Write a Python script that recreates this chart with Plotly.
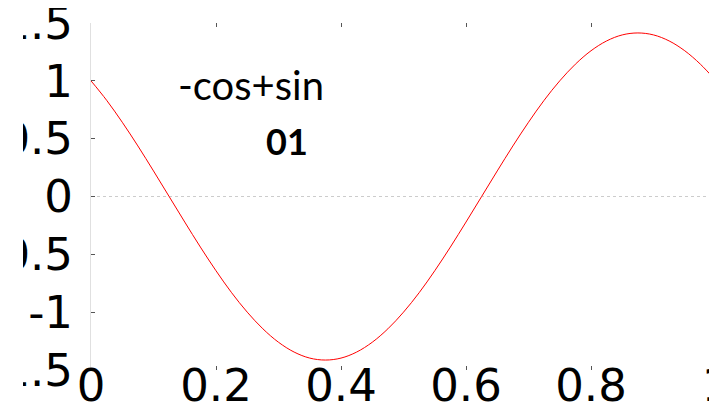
import plotly.graph_objects as go

x_vals = [i * 0.025 for i in range(41)]
y_vals = [1.0, 0.832, 0.642, 0.437, 0.221, 0.0, -0.221, -0.437, -0.642, -0.832,
          -1.0, -1.144, -1.26, -1.345, -1.397, -1.414, -1.397, -1.345, -1.26, -1.144,
          -1.0, -0.832, -0.642, -0.437, -0.221, 0.0, 0.221, 0.437, 0.642, 0.832,
          1.0, 1.144, 1.26, 1.345, 1.397, 1.414, 1.397, 1.345, 1.26, 1.144, 1.0]

x_ticks = [0, 0.2, 0.4, 0.6, 0.8, 1]
x_tick_text = ["0", "0.2", "0.4", "0.6", "0.8", "1"]
y_ticks = [-1.5, -1, -0.5, 0, 0.5, 1, 1.5]
y_tick_text = ["-1.5", "-1", "-0.5", "0", "0.5", "1", "1.5"]

title_text = "-cos+sin"
sub_text = "<b>01</b>"

fig = go.Figure()
fig.add_trace(go.Scatter(x=x_vals, y=y_vals, mode="lines",
                         line=dict(color="red", width=1, shape="spline"),
                         showlegend=False, hoverinfo="skip"))
fig.add_hline(y=0, line=dict(color="#cccccc", width=1, dash="dot"), layer="below")

fig.add_annotation(x=0.256, y=0.964, xref="x", yref="y", text=title_text, showarrow=False,
                   font=dict(family="Lato", size=40, color="black"))
fig.add_annotation(x=0.314, y=0.476, xref="x", yref="y", text=sub_text, showarrow=False,
                   font=dict(family="Lato", size=36, color="black"))

# white strip that crops the tick labels at the left edge like the reference
fig.add_shape(type="rect", xref="paper", yref="paper",
              x0=-0.2, x1=-0.1088, y0=-0.2, y1=1.1,
              fillcolor="white", line=dict(width=0), layer="above")

fig.update_layout(
    width=709, height=403,
    margin=dict(l=83, r=1, t=15, b=41, autoexpand=False),
    paper_bgcolor="white", plot_bgcolor="white",
    font=dict(family="DejaVu Sans", size=45, color="black"),
)
fig.update_xaxes(range=[0, 1], tickvals=x_ticks, ticktext=x_tick_text,
                 ticks="inside", ticklen=4, tickcolor="#555555", mirror="ticks",
                 showline=False, showgrid=False, zeroline=False, automargin=False,
                 ticklabeloverflow="allow", ticklabelstandoff=-15)
fig.update_yaxes(range=[-1.5, 1.5], tickvals=y_ticks, ticktext=y_tick_text,
                 ticks="inside", ticklen=4, tickcolor="#555555", mirror="ticks",
                 showline=True, linecolor="#e0e0e0", linewidth=1,
                 showgrid=False, zeroline=False, automargin=False,
                 ticklabeloverflow="allow", ticklabelstandoff=8)

fig.write_html("out.html")
